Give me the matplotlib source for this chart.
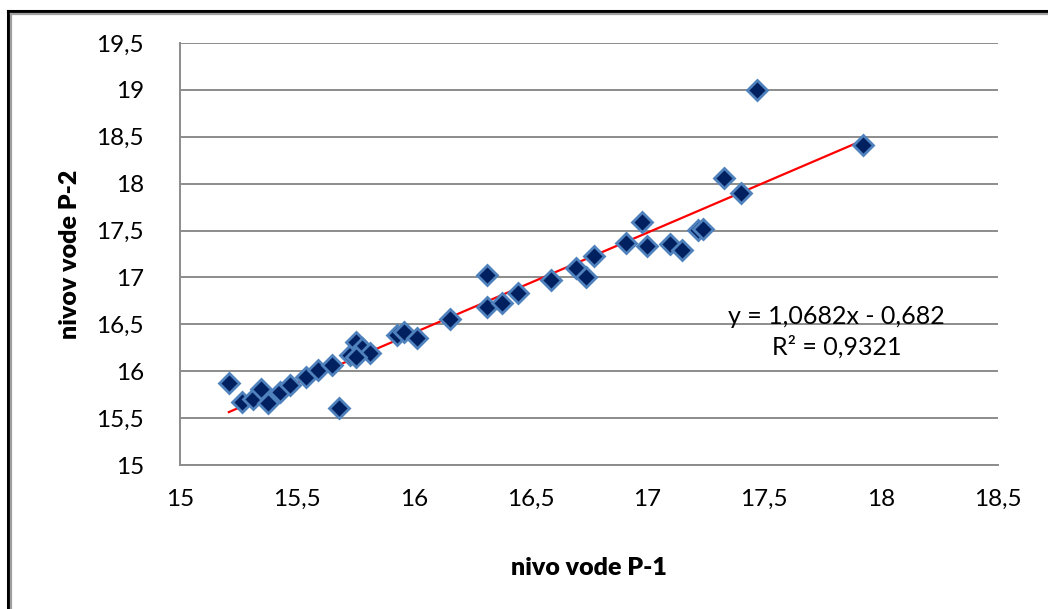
import matplotlib
matplotlib.use('Agg')
import matplotlib.pyplot as plt
from matplotlib.lines import Line2D

p1 = [15.209, 15.265, 15.312, 15.346, 15.376, 15.427, 15.469, 15.538, 15.589, 15.649,
      15.679, 15.726, 15.755, 15.777, 15.811, 15.755, 15.930, 15.960, 16.016, 16.157,
      16.315, 16.315, 16.379, 16.447, 16.588, 16.694, 16.737, 16.771, 16.908, 16.976,
      16.997, 17.096, 17.147, 17.215, 17.236, 17.326, 17.399, 17.467, 17.924]
p2 = [15.875, 15.672, 15.704, 15.811, 15.662, 15.779, 15.854, 15.939, 16.014, 16.067,
      15.608, 16.174, 16.313, 16.249, 16.195, 16.153, 16.387, 16.420, 16.355, 16.558,
      16.686, 17.028, 16.729, 16.836, 16.974, 17.100, 17.006, 17.230, 17.369, 17.593,
      17.337, 17.359, 17.295, 17.508, 17.519, 18.063, 17.903, 19.002, 18.415]

# trendline as printed on the chart
slope = 1.0682
intercept = -0.682
eq_text = 'y = 1,0682x - 0,682\nR² = 0,9321'

xticks = [15, 15.5, 16, 16.5, 17, 17.5, 18, 18.5]
yticks = [15, 15.5, 16, 16.5, 17, 17.5, 18, 18.5, 19, 19.5]

plt.rcParams['font.family'] = ['Lato', 'DejaVu Sans']

fig = plt.figure(figsize=(10.48, 6.09), dpi=100)
ax = fig.add_axes([180 / 1048, 1 - 465 / 609, 818 / 1048, 422 / 609])

gray = '#8c8c8c'

# double frame around the chart (only top/left visible)
fig.add_artist(Line2D([7.5 / 1048, 7.5 / 1048], [0, 1 - 10.5 / 609], color='black', lw=2.2))
fig.add_artist(Line2D([7.5 / 1048, 1], [1 - 10.5 / 609, 1 - 10.5 / 609], color='black', lw=2.2))
fig.add_artist(Line2D([10.5 / 1048, 10.5 / 1048], [0, 1 - 14 / 609], color='#a0a0a0', lw=1.6))
fig.add_artist(Line2D([10.5 / 1048, 1], [1 - 14 / 609, 1 - 14 / 609], color='#a0a0a0', lw=1.6))

x0, x1 = min(p1), max(p1)
ax.plot([x0, x1], [slope * x0 + intercept, slope * x1 + intercept], color='#ff0000', lw=1.6, zorder=2)
ax.plot(p1, p2, linestyle='none', marker='D', markersize=10, markerfacecolor='#002060',
        markeredgecolor='#4f81bd', markeredgewidth=2.0, zorder=3)

ax.set_xlim(15, 18.5)
ax.set_ylim(15, 19.5)
ax.set_xticks(xticks)
ax.set_yticks(yticks)
ax.set_xticklabels([('%g' % t).replace('.', ',') for t in xticks])
ax.set_yticklabels([('%g' % t).replace('.', ',') for t in yticks])
ax.tick_params(length=0, labelsize=17.5, colors='black')
ax.tick_params(axis='y', pad=26)
ax.tick_params(axis='x', pad=17)

ax.yaxis.grid(True, color=gray, lw=1.4)
ax.set_axisbelow(True)
for s in ['top', 'right']:
    ax.spines[s].set_visible(False)
for s in ['left', 'bottom']:
    ax.spines[s].set_color(gray)
    ax.spines[s].set_linewidth(1.4)

ax.set_xlabel('nivo vode P-1', fontsize=18, fontweight='heavy', labelpad=34)
ax.set_ylabel('nivov vode P-2', fontsize=18, fontweight='heavy', labelpad=11)

ax.text(0.803, 0.315, eq_text, transform=ax.transAxes, ha='center', va='center',
        fontsize=18, linespacing=1.35)

fig.savefig('out.png', dpi=100)
